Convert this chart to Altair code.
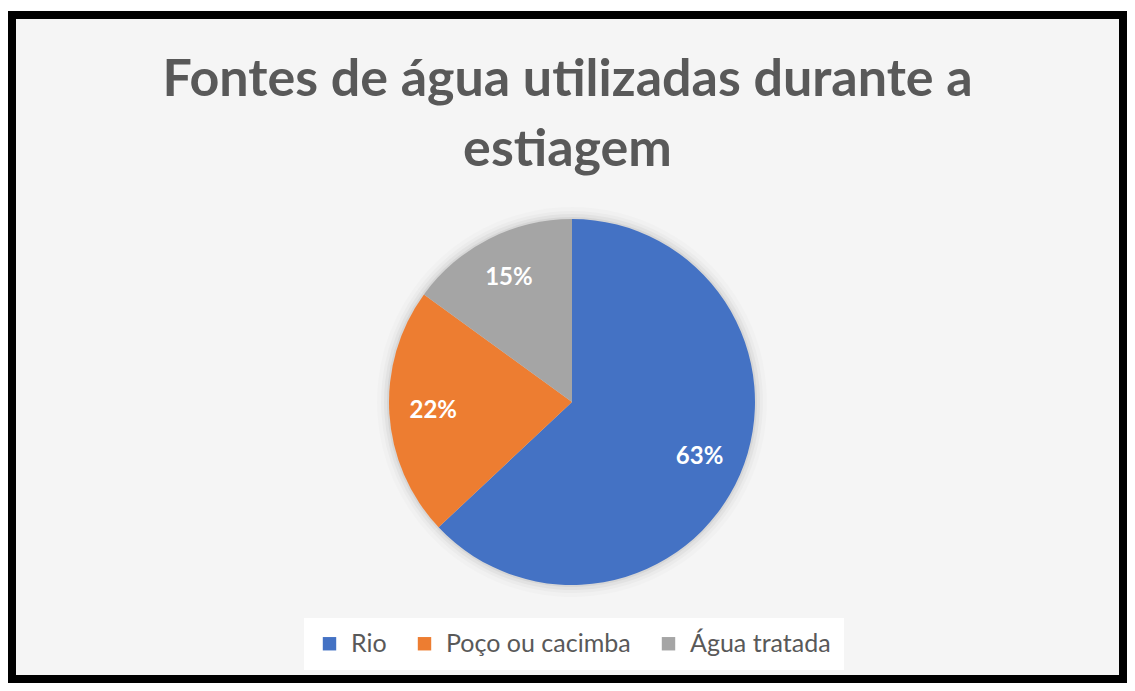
import altair as alt
import pandas as pd

categories = ["Rio", "Poço ou cacimba", "Água tratada"]
values = [63, 22, 15]
labels = ["63%", "22%", "15%"]
colors = ["#4472C4", "#ED7D31", "#A5A5A5"]
order = [0, 1, 2]

df = pd.DataFrame({"fonte": categories, "valor": values, "rotulo": labels, "ordem": order})

CX, CY = 560, 387
R = 183

base = alt.Chart(df).encode(
    theta=alt.Theta("valor:Q", stack=True),
    order=alt.Order("ordem:Q", sort="ascending"),
    x=alt.value(CX),
    y=alt.value(CY),
)

shadows = [
    base.mark_arc(radius=R + rr, color="#000000", opacity=op, stroke=None)
    for rr, op in [(12, 0.015), (8, 0.025), (5, 0.035), (2, 0.05)]
]

pie = base.mark_arc(radius=R, strokeWidth=0).encode(
    color=alt.Color(
        "fonte:N",
        scale=alt.Scale(domain=categories, range=colors),
        sort=categories,
        legend=alt.Legend(
            orient="none",
            legendX=292,
            legendY=603,
            direction="horizontal",
            title=None,
            symbolType="square",
            symbolSize=180,
            symbolStrokeWidth=0,
            labelFontSize=25,
            labelFont="Lato",
            labelColor="#595959",
            labelOffset=9,
            labelLimit=400,
            columnPadding=25,
            fillColor="white",
            padding=13,
        ),
    )
)

text = base.mark_text(
    radius=139, fontSize=24, font="Lato", fontWeight="bold", color="white"
).encode(text="rotulo:N")

chart = alt.layer(*shadows, pie, text).properties(
    width=1111,
    height=664,
    padding={"left": 4, "top": 7, "right": 4, "bottom": 4},
    autosize=alt.AutoSizeParams(type="none"),
    background="white",
    title=alt.TitleParams(
        text=["Fontes de água utilizadas durante a", "estiagem"],
        fontSize=52,
        font="Lato",
        fontWeight="bold",
        color="#595959",
        anchor="middle",
        frame="group",
        baseline="alphabetic",
        offset=-203,
        lineHeight=70,
    ),
).configure_view(
    stroke="black", strokeWidth=8, fill="#f5f5f5"
)

chart.save("out.html", embed_options={"renderer": "svg", "actions": False})
